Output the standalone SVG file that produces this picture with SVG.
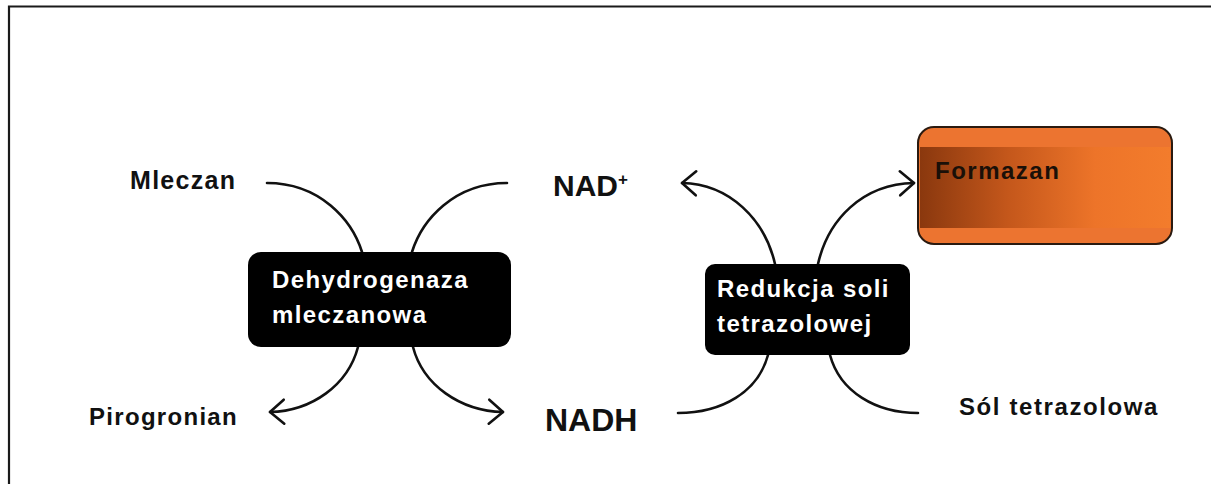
<svg xmlns="http://www.w3.org/2000/svg" width="1211" height="484" viewBox="0 0 1211 484">
  <style>
    .lbl { font-family: "Liberation Sans", Arial, sans-serif; font-weight: bold; fill: #111; }
    .box-text { font-family: "Liberation Sans", Arial, sans-serif; font-weight: bold; fill: #fff; font-size: 24px; letter-spacing: 1.4px; }
    .edge { fill: none; stroke: #111; stroke-width: 2.6; stroke-linecap: round; }
    .enzyme { fill: #000; }
  </style>
  <defs>
    <marker id="chevron" markerUnits="userSpaceOnUse" markerWidth="30" markerHeight="30" viewBox="-17 -15 20 30" refX="0" refY="0" orient="auto">
      <path d="M-14,-12 L0,0 L-14,12" fill="none" stroke="#111" stroke-width="2.6" stroke-linecap="round" stroke-linejoin="round"/>
    </marker>
    <linearGradient id="formazanBand" x1="0" y1="0" x2="1" y2="0">
      <stop offset="0" stop-color="#8a380e"/>
      <stop offset="0.35" stop-color="#c4571b"/>
      <stop offset="0.7" stop-color="#ed7429"/>
      <stop offset="1" stop-color="#f37c2c"/>
    </linearGradient>
  </defs>

  <rect width="1211" height="484" fill="#fff"/>
  <!-- frame -->
  <path d="M9,484 V6.5 H1211" fill="none" stroke="#1a1a1a" stroke-width="2.2"/>

  <!-- connectors -->
  <g id="connectors">
    <path class="edge" d="M267,183 C320,183 352,220 362,252"/>
    <path class="edge" d="M507,183 C454,183 422,220 412,252"/>
    <path class="edge" d="M358,347 C348,385 312,411 270,412" marker-end="url(#chevron)"/>
    <path class="edge" d="M413,347 C423,385 460,411 503,412" marker-end="url(#chevron)"/>
    <path class="edge" d="M775,264 C765,220 730,184 682,183" marker-end="url(#chevron)"/>
    <path class="edge" d="M818,264 C828,220 862,184 914,183" marker-end="url(#chevron)"/>
    <path class="edge" d="M768,355 C758,392 722,413 678,413"/>
    <path class="edge" d="M830,355 C840,392 876,413 918,413"/>
  </g>

  <!-- substrate / product labels -->
  <g id="mleczan"><text class="lbl" x="130" y="189" font-size="25" letter-spacing="1.3">Mleczan</text></g>
  <g id="pirogronian"><text class="lbl" x="89" y="425" font-size="24" letter-spacing="1.3">Pirogronian</text></g>
  <g id="nad"><text class="lbl" x="553" y="196" font-size="30">NAD<tspan font-size="17" dy="-11">+</tspan></text></g>
  <g id="nadh"><text class="lbl" x="545" y="431" font-size="32">NADH</text></g>
  <g id="sol-tetrazolowa"><text class="lbl" x="959" y="415" font-size="24" letter-spacing="1.6">Sól tetrazolowa</text></g>

  <!-- enzyme / reaction boxes -->
  <g id="dehydrogenaza">
    <rect class="enzyme" x="248" y="252" width="263" height="95" rx="13"/>
    <text class="box-text" x="272" y="288">Dehydrogenaza</text>
    <text class="box-text" x="272" y="323">mleczanowa</text>
  </g>
  <g id="redukcja">
    <rect class="enzyme" x="705" y="264" width="205" height="91" rx="10"/>
    <text class="box-text" x="717" y="297">Redukcja soli</text>
    <text class="box-text" x="717" y="332">tetrazolowej</text>
  </g>

  <!-- product box -->
  <g id="formazan">
    <rect x="918" y="127" width="254" height="117" rx="16" fill="#ec7430" stroke="#2a1a10" stroke-width="2"/>
    <rect x="920" y="147" width="250" height="81" fill="url(#formazanBand)"/>
    <text x="935" y="179" font-family="Liberation Sans, Arial, sans-serif" font-weight="bold" font-size="24" letter-spacing="1.5" fill="#1a1008">Formazan</text>
  </g>
</svg>
